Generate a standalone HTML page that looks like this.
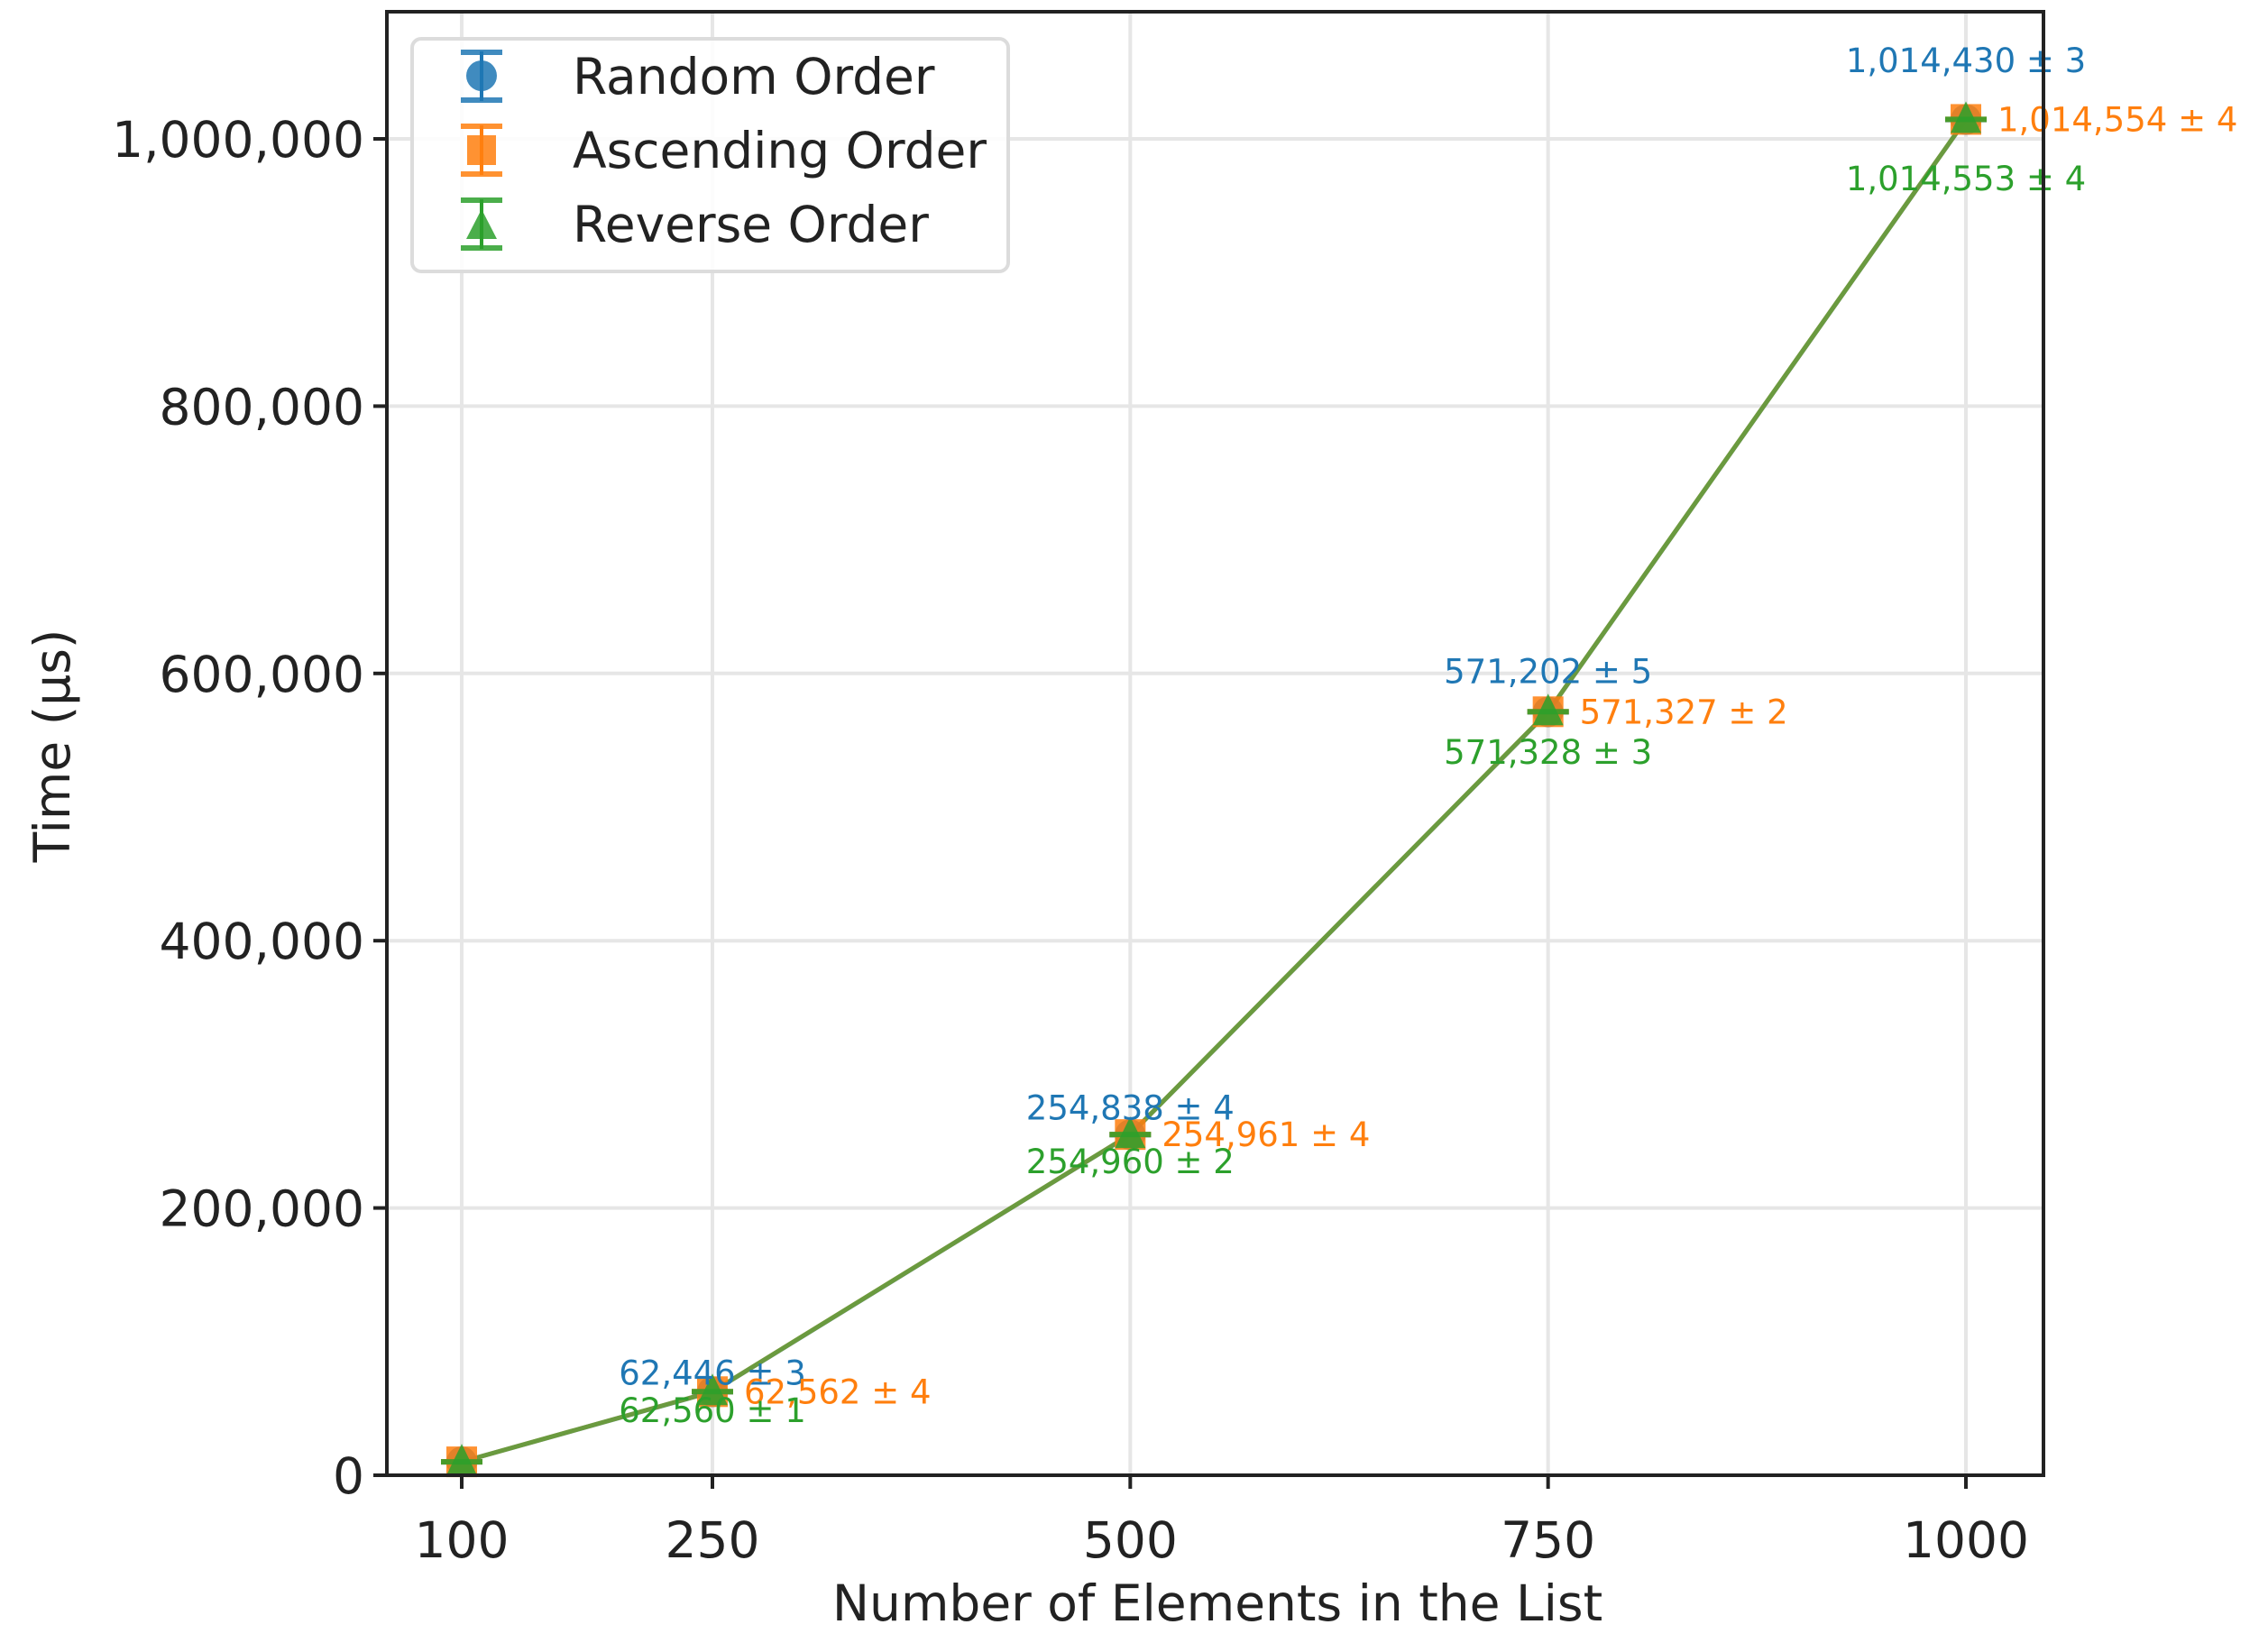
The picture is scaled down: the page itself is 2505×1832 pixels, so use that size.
<!DOCTYPE html>
<html><head><meta charset="utf-8">
<style>
html,body{margin:0;padding:0;background:#fff;}
svg{display:block;font-family:"DejaVu Sans","Liberation Sans",sans-serif;}
</style></head>
<body>
<svg id="chart" width="2505" height="1832" viewBox="0 0 2505 1832" xmlns="http://www.w3.org/2000/svg">
<g id="grid"></g>
<g id="series"></g>
<g id="labels"></g>
<g id="axes"></g>
<text x="1350" y="1797" font-size="55" text-anchor="middle" fill="#222">Number of Elements in the List</text>
<text transform="translate(77,827) rotate(-90)" font-size="55" text-anchor="middle" fill="#222">Time (µs)</text>
<g>
  <rect x="457" y="43" width="661" height="258" rx="10" fill="#fff" fill-opacity="0.85" stroke="#dcdcdc" stroke-width="4"/>
  <g>
    <line x1="534" y1="57" x2="534" y2="112" stroke="#1f77b4" stroke-width="4"/>
    <line x1="511" y1="58" x2="557" y2="58" stroke="#1f77b4" stroke-width="6" opacity="0.85"/>
    <line x1="511" y1="111" x2="557" y2="111" stroke="#1f77b4" stroke-width="6" opacity="0.85"/>
    <ellipse cx="534" cy="84" rx="17" ry="17" fill="#1f77b4" opacity="0.85"/>
    <text x="635" y="104" font-size="55" fill="#222">Random Order</text>
  </g>
  <g>
    <line x1="534" y1="139" x2="534" y2="194" stroke="#ff7f0e" stroke-width="4"/>
    <line x1="511" y1="140" x2="557" y2="140" stroke="#ff7f0e" stroke-width="6" opacity="0.85"/>
    <line x1="511" y1="193" x2="557" y2="193" stroke="#ff7f0e" stroke-width="6" opacity="0.85"/>
    <rect x="518" y="150" width="32" height="33" fill="#ff7f0e" opacity="0.85"/>
    <text x="635" y="186" font-size="55" fill="#222">Ascending Order</text>
  </g>
  <g>
    <line x1="534" y1="221" x2="534" y2="276" stroke="#2ca02c" stroke-width="4"/>
    <line x1="511" y1="222" x2="557" y2="222" stroke="#2ca02c" stroke-width="6" opacity="0.85"/>
    <line x1="511" y1="275" x2="557" y2="275" stroke="#2ca02c" stroke-width="6" opacity="0.85"/>
    <polygon points="534,232 551,265 517,265" fill="#2ca02c" opacity="0.85"/>
    <text x="635" y="268" font-size="55" fill="#222">Reverse Order</text>
  </g>
</g>
</svg>
<script>
const categories = [100, 250, 500, 750, 1000];
const randomVals = [10030, 62446, 254838, 571202, 1014430];
const randomErr = [2, 3, 4, 5, 3];
const ascVals = [10050, 62562, 254961, 571327, 1014554];
const ascErr = [2, 4, 4, 2, 4];
const revVals = [10049, 62560, 254960, 571328, 1014553];
const revErr = [2, 1, 2, 3, 4];
const yTicks = [0, 200000, 400000, 600000, 800000, 1000000];
const xTickLabels = ["100", "250", "500", "750", "1000"];

const NS = "http://www.w3.org/2000/svg";
const L = 429, R = 2266, T = 13, B = 1636;
function xs(v){ return 512 + (v - 100) * (2180 - 512) / 900; }
function ys(v){ return 1636 - v * (1636 - 154) / 1000000; }
function mk(tag, attrs, parent){ const e = document.createElementNS(NS, tag); for (const k in attrs) e.setAttribute(k, attrs[k]); parent.appendChild(e); return e; }
const fmt = v => v.toLocaleString("en-US");

const grid = document.getElementById("grid");
const axes = document.getElementById("axes");
const series = document.getElementById("series");
const labels = document.getElementById("labels");

yTicks.forEach(t => {
  const g = mk("line", {x1:L, x2:R, y1:ys(t), y2:ys(t), stroke:"#e6e6e6", "stroke-width":4}, grid);
  
  
  const tk = mk("line", {x1:L-15, x2:L, y1:ys(t), y2:ys(t), stroke:"#222", "stroke-width":4}, axes);
  
  
  const tx = mk("text", {x:L-25, y:ys(t)+20, "font-size":55, "text-anchor":"end", fill:"#222"}, axes);
  tx.textContent = fmt(t);
  
  
});
categories.forEach((c, i) => {
  const g = mk("line", {x1:xs(c), x2:xs(c), y1:T, y2:B, stroke:"#e6e6e6", "stroke-width":4}, grid);
  
  
  const tk = mk("line", {x1:xs(c), x2:xs(c), y1:B, y2:B+15, stroke:"#222", "stroke-width":4}, axes);
  
  
  const tx = mk("text", {x:xs(c), y:1727, "font-size":55, "text-anchor":"middle", fill:"#222"}, axes);
  tx.textContent = xTickLabels[i];
  
  
});
const frame = mk("rect", {x:L, y:T, width:R-L, height:B-T, fill:"none", stroke:"#222", "stroke-width":4}, axes);



const defs = [
  {name:"random", vals:randomVals, err:randomErr, color:"#1f77b4", marker:"circle"},
  {name:"ascending", vals:ascVals, err:ascErr, color:"#ff7f0e", marker:"square"},
  {name:"reverse", vals:revVals, err:revErr, color:"#2ca02c", marker:"triangle"}
];
defs.forEach(s => {
  const pts = categories.map((c, i) => xs(c) + "," + ys(s.vals[i])).join(" ");
  const pl = mk("polyline", {points:pts, fill:"none", stroke:s.color, "stroke-width":5, opacity:0.6}, series);
  
  
});
defs.forEach(s => {
  categories.forEach((c, i) => {
    const x = xs(c), y = ys(s.vals[i]);
    const cap1 = mk("line", {x1:x-23, x2:x+23, y1:ys(s.vals[i]+s.err[i]), y2:ys(s.vals[i]+s.err[i]), stroke:s.color, "stroke-width":6, opacity:0.85}, series);
    
    
    let m;
    if (s.marker === "circle") m = mk("circle", {cx:x, cy:y, r:17, fill:s.color, opacity:0.85}, series);
    else if (s.marker === "square") m = mk("rect", {x:x-17, y:y-17, width:34, height:34, fill:s.color, opacity:0.85}, series);
    else m = mk("polygon", {points:`${x},${y-20} ${x+17},${y+15} ${x-17},${y+15}`, fill:s.color, opacity:0.85}, series);
    
    
  });
});
// value labels (skip first category)
categories.forEach((c, i) => {
  if (i === 0) return;
  const x = xs(c);
  const yb = ys(randomVals[i]), yo = ys(ascVals[i]), yg = ys(revVals[i]);
  const off = 18 + ascVals[i] * 0.000047;
  const tb = mk("text", {x:x, y:yb - off + 13, "font-size":37, "text-anchor":"middle", fill:"#1f77b4"}, labels);
  tb.textContent = fmt(randomVals[i]) + " ± " + randomErr[i];
  
  
  const to = mk("text", {x:x + 35, y:yo + 13, "font-size":37, "text-anchor":"start", fill:"#ff7f0e"}, labels);
  to.textContent = fmt(ascVals[i]) + " ± " + ascErr[i];
  
  
  const tg = mk("text", {x:x, y:yg + off + 13, "font-size":37, "text-anchor":"middle", fill:"#2ca02c"}, labels);
  tg.textContent = fmt(revVals[i]) + " ± " + revErr[i];
  
  
});
</script>
</body></html>
